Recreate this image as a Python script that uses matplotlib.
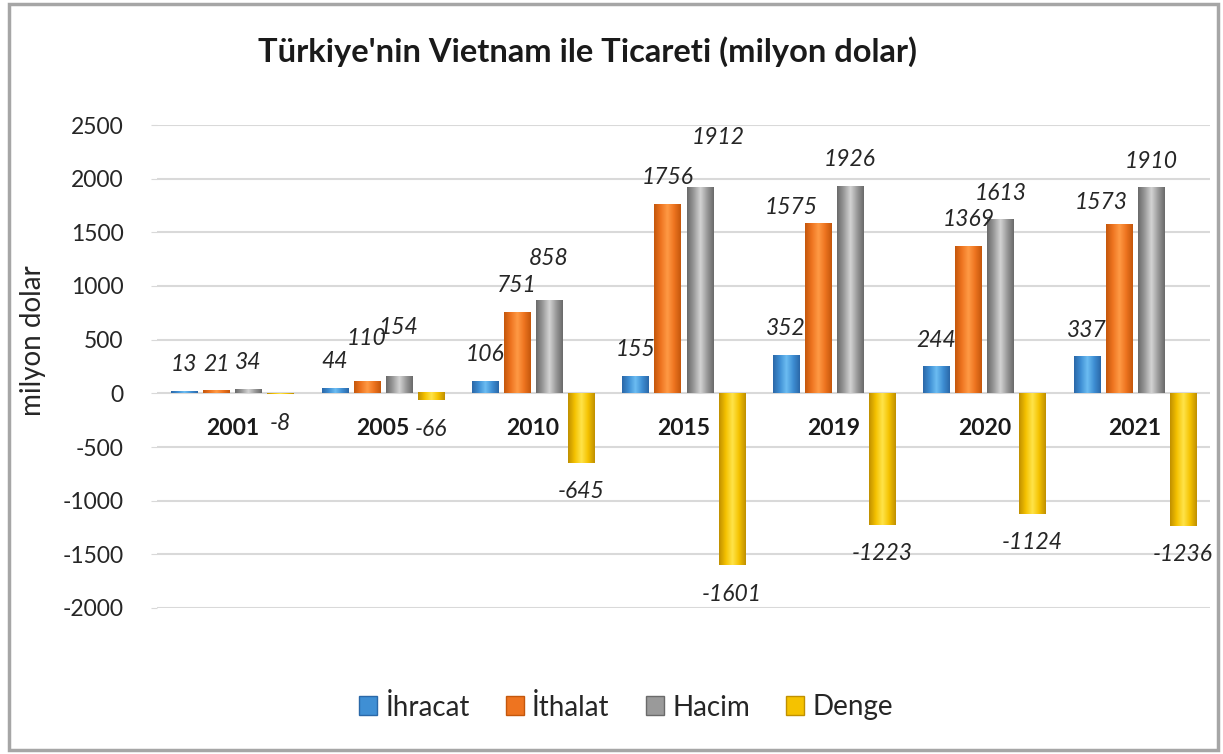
import numpy as np
import matplotlib
matplotlib.use("Agg")
import matplotlib.pyplot as plt
from matplotlib.colors import LinearSegmentedColormap
from matplotlib.patches import Patch, Rectangle

years = ["2001", "2005", "2010", "2015", "2019", "2020", "2021"]
ihracat = [13, 44, 106, 155, 352, 244, 337]
ithalat = [21, 110, 751, 1756, 1575, 1369, 1573]
hacim = [34, 154, 858, 1912, 1926, 1613, 1910]
denge = [-8, -66, -645, -1601, -1223, -1124, -1236]
series_names = ["İhracat", "İthalat", "Hacim", "Denge"]

# (edge, mid, highlight) colours for the shaded bars
shades = [
    ("#2a68a8", "#3f8fd4", "#6cbdf2"),
    ("#c4570c", "#ee7420", "#ff9a45"),
    ("#6a6a6a", "#9a9a9a", "#d4d4d4"),
    ("#c09000", "#f5c200", "#ffe44a"),
]

# label nudges (dx, dy) in pixels where the original labels were moved
nudge = {
    (1, 1): (0, 16), (2, 1): (0, 22), (2, 2): (0, 16), (2, 3): (19, 24),
    (1, 4): (-27, -10), (1, 6): (-18, -5),
}

plt.rcParams["font.family"] = ["Lato", "DejaVu Sans"]
plt.rcParams["axes.unicode_minus"] = False

fig = plt.figure(figsize=(12.23, 7.54), dpi=100)
ax = fig.add_axes([157 / 1223, 1 - 608 / 754, 1053 / 1223, 483 / 754])

x = np.arange(len(years))
step = 0.213
width = 0.173
all_vals = [ihracat, ithalat, hacim, denge]

prof = np.linspace(0, 1, 64)
for s, vals in enumerate(all_vals):
    edge, mid, hi = shades[s]
    cmap = LinearSegmentedColormap.from_list("b%d" % s, [edge, mid, hi, mid, edge])
    bars = ax.bar(x + (s - 1.5) * step, vals, width, color=mid, zorder=2, linewidth=0)
    for i, b in enumerate(bars):
        bx, by = b.get_xy()
        bw, bh = b.get_width(), b.get_height()
        ax.imshow(prof[None, :], cmap=cmap, vmin=0, vmax=1, aspect="auto",
                  extent=[bx, bx + bw, by, by + bh], zorder=3, interpolation="bilinear")
        v = vals[i]
        dx, dy = nudge.get((s, i), (0, 0))
        off = 27 if v >= 0 else -29
        ax.annotate(str(v), (b.get_x() + bw / 2, v), xytext=(dx, off + dy),
                    textcoords="offset pixels", ha="center", va="center",
                    fontsize=16.5, fontstyle="italic", color="#262626", zorder=5)

for i, y in enumerate(years):
    ax.annotate(y, (x[i], 0), xytext=(0, -35), textcoords="offset pixels",
                ha="center", va="center", fontsize=16.5, fontweight="bold",
                color="#1a1a1a", zorder=1)

ax.set_xlim(-0.5, len(years) - 0.5)
ax.set_ylim(-2000, 2500)
ax.set_yticks(np.arange(-2000, 2501, 500))
ax.set_xticks([])
ax.grid(axis="y", color="#d9d9d9", linewidth=1.5, zorder=0)
ax.set_axisbelow(True)
for sp in ax.spines.values():
    sp.set_visible(False)
ax.tick_params(axis="y", length=4, color="#d9d9d9", pad=20, labelsize=16.5,
               labelcolor="#262626")

fig.text(33 / 1223, 1 - 341 / 754, "milyon dolar", rotation=90, ha="center",
         va="center", fontsize=20, color="#262626")
fig.text(588 / 1223, 1 - 52 / 754, "Türkiye'nin Vietnam ile Ticareti (milyon dolar)",
         ha="center", va="center", fontsize=23.5, fontweight="bold", color="#1a1a1a")

handles = [Patch(facecolor=c[1], edgecolor=c[0]) for c in shades]
fig.legend(handles, series_names, loc="center", bbox_to_anchor=(626 / 1223, 1 - 707 / 754),
           ncol=4, frameon=False, fontsize=20, handlelength=0.65, handleheight=0.65,
           handletextpad=0.3, columnspacing=1.3, labelcolor="#262626")

fig.patches.append(Rectangle((9 / 1223, 4 / 754), 1209 / 1223, 746 / 754,
                             transform=fig.transFigure, fill=False,
                             edgecolor="#a6a6a6", linewidth=2.5))

fig.savefig("out.png", dpi=100)
